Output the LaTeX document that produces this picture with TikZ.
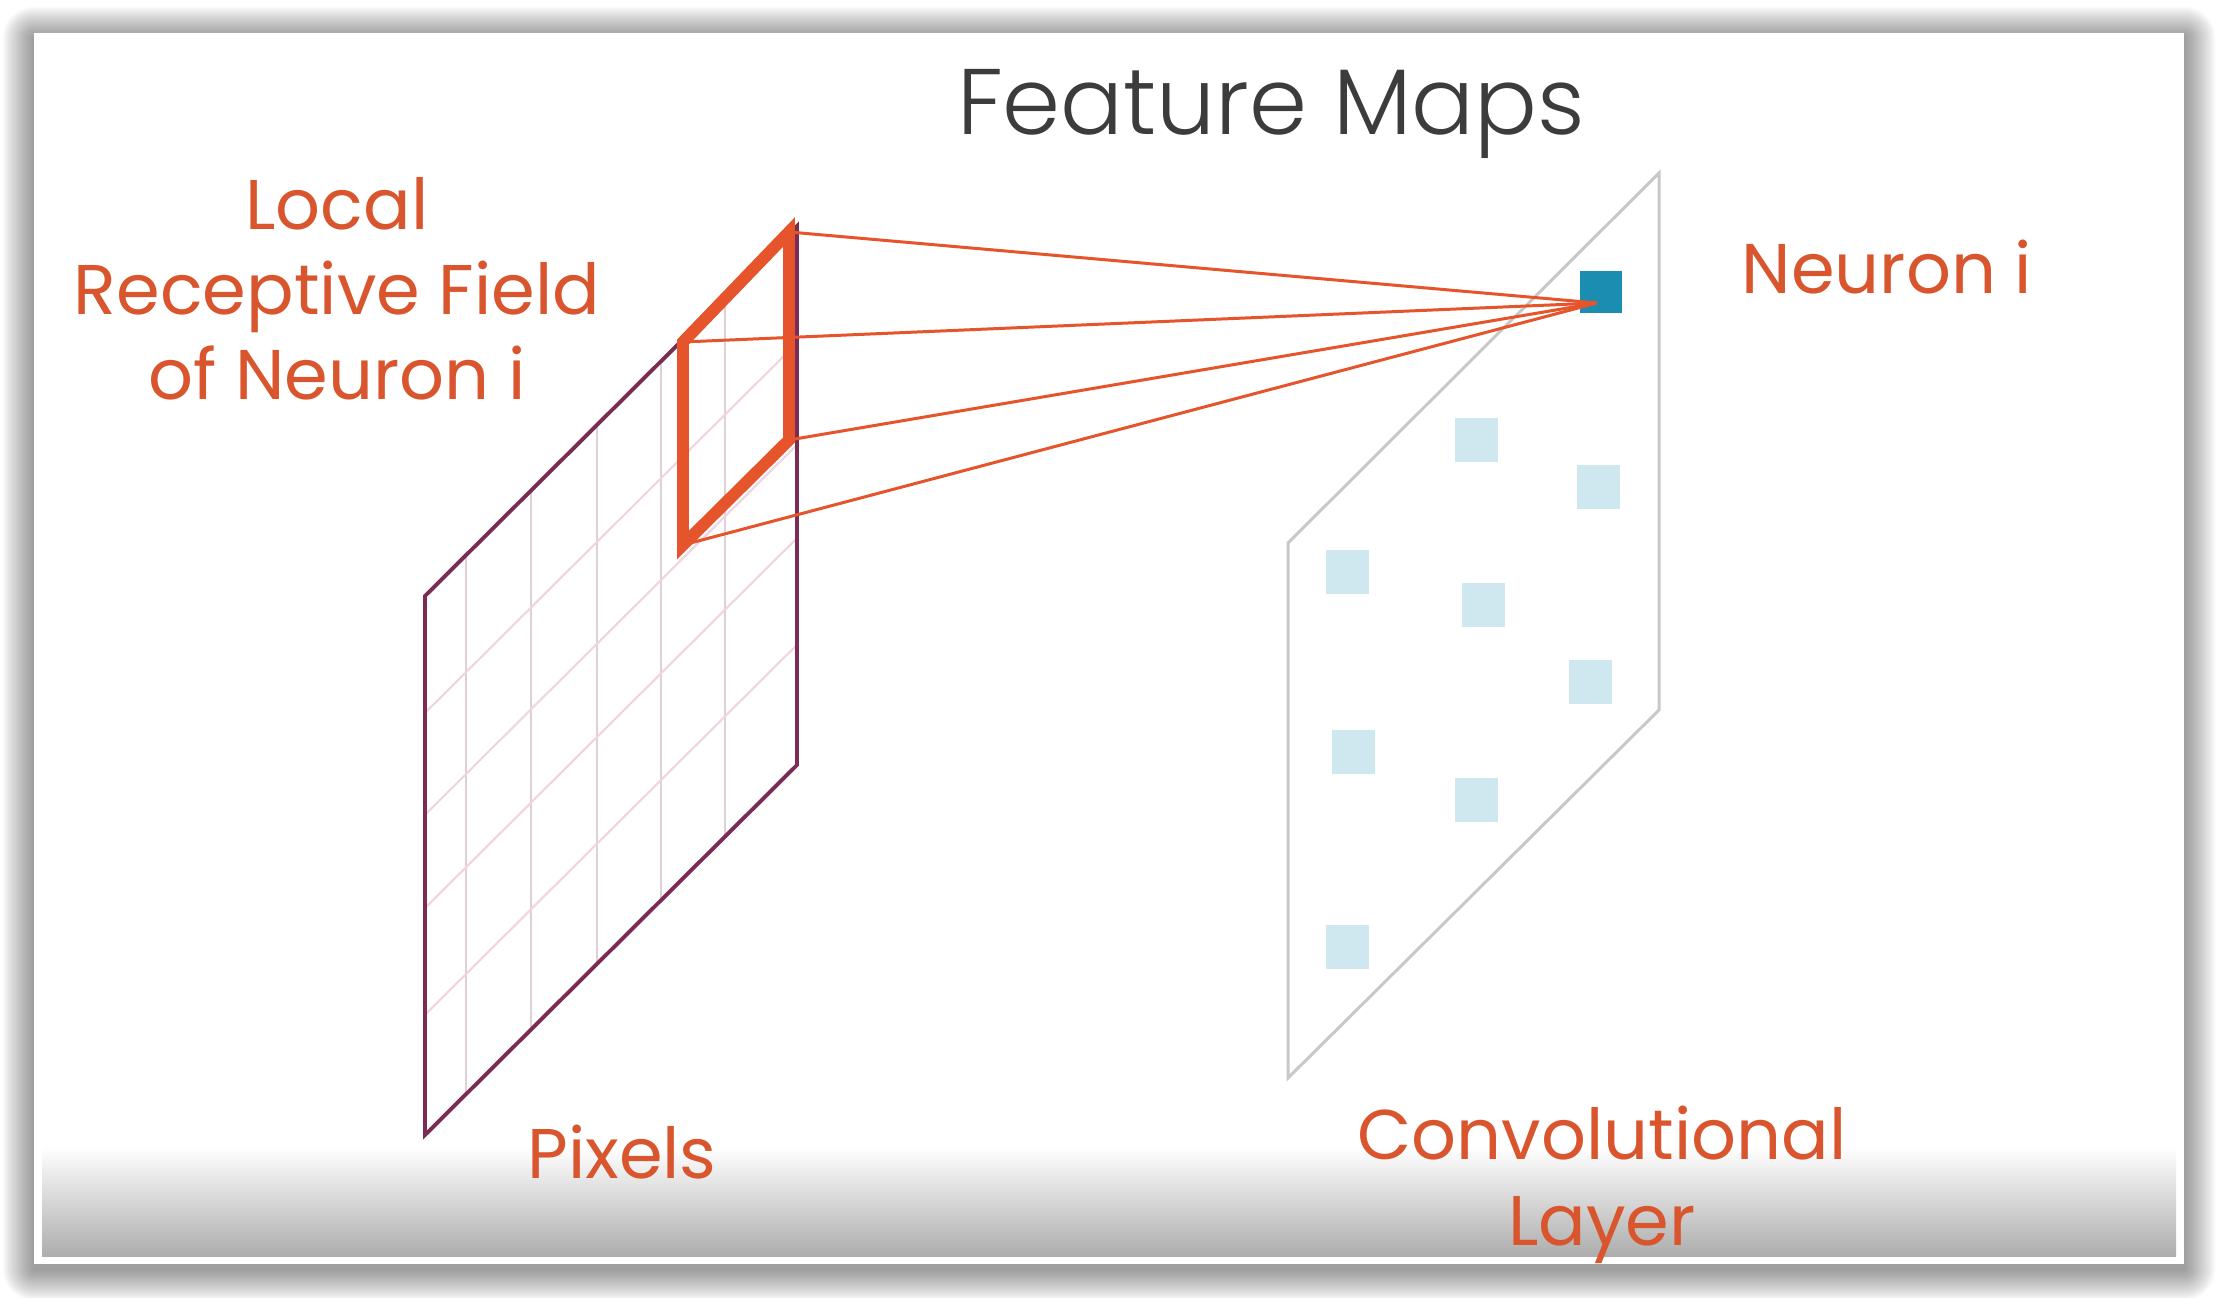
\documentclass[tikz,border=0pt]{standalone}
\usepackage{fontspec}
\setmainfont{Poppins}
\newfontfamily\lightfont{Poppins Light}
\usetikzlibrary{calc}
\definecolor{rforange}{HTML}{E6542B}
\definecolor{lblorange}{HTML}{D9552D}
\definecolor{titlegray}{HTML}{3C3C3C}
\definecolor{pixborder}{HTML}{7A2C55}
\definecolor{gridv}{HTML}{DFCFD8}
\definecolor{gridd}{HTML}{F0D4DE}
\definecolor{convgray}{HTML}{C8C8C8}
\definecolor{neuronblue}{HTML}{1A8DB0}
\definecolor{cellblue}{HTML}{CFE8EF}
\definecolor{gradgray}{HTML}{ADADAD}
\tikzset{
  lbl/.style={text=lblorange, font=\fontsize{20}{24.2}\selectfont, inner sep=0pt, align=center},
  cell/.style={fill=cellblue, minimum size=0.43cm, inner sep=0pt, draw=none},
  neuroncell/.style={fill=neuronblue, minimum size=0.42cm, inner sep=0pt, draw=none},
  gridvline/.style={draw=gridv, line width=0.6pt},
  griddline/.style={draw=gridd, line width=0.6pt},
  planeborder/.style={draw=pixborder, line width=1.1pt, line join=miter},
  convborder/.style={draw=convgray, line width=0.85pt},
  rfbox/.style={draw=rforange, line width=3.4pt, line join=miter},
  rfline/.style={draw=rforange, line width=0.85pt},
}
\begin{document}
\begin{tikzpicture}[x=0.01cm,y=-0.01cm]
\useasboundingbox (0,0) rectangle (2218,1298);
% drop shadow of the card
\foreach \i in {1,...,24}{
  \pgfmathsetmacro\d{\i*1.3}
  \pgfmathsetmacro\r{\d*0.2845}
  \fill[black,opacity=0.018,rounded corners=\r pt] ({34-\d},{38-\d}) rectangle ({2184+\d},{1269+\d});
}
% card
\fill[white] (34,33) rectangle (2184,1264);
\shade[top color=white, bottom color=gradgray] (42,1147) rectangle (2176,1256);

% ---- pixel plane ----
\coordinate (pTL) at (425,596);
\coordinate (pTR) at (797,226);
\coordinate (pBR) at (797,765);
\coordinate (pBL) at (425,1135);
\foreach \t in {0.110,0.285,0.462,0.634,0.806}{
  \draw[gridvline] ($(pTL)!\t!(pTR)$) -- ($(pBL)!\t!(pBR)$);
}
\foreach \s in {0.217,0.406,0.579,0.777}{
  \draw[griddline] ($(pTL)!\s!(pBL)$) -- ($(pTR)!\s!(pBR)$);
}
\draw[planeborder] (pTL) -- (pTR) -- (pBR) -- (pBL) -- cycle;

% ---- convolutional plane ----
\coordinate (cTL) at (1288,543);
\coordinate (cTR) at (1659,173);
\coordinate (cBR) at (1659,710);
\coordinate (cBL) at (1288,1078);
\draw[convborder] (cTL) -- (cTR) -- (cBR) -- (cBL) -- cycle;

\node[cell] (c1) at (1476,440) {};
\node[cell] (c2) at (1598,487) {};
\node[cell] (c3) at (1347,572) {};
\node[cell] (c4) at (1483,605) {};
\node[cell] (c5) at (1590,682) {};
\node[cell] (c6) at (1353,752) {};
\node[cell] (c7) at (1476,800) {};
\node[cell] (c8) at (1347,947) {};
\node[neuroncell] (neuron) at (1601,292) {};
\coordinate (nconv) at (1597,303);

% ---- receptive field ----
\coordinate (rTR) at (789,232);
\coordinate (rTL) at (683,342);
\coordinate (rBL) at (683,545);
\coordinate (rBR) at (789,440);
\draw[rfbox] (rTR) -- (rTL) -- (rBL) -- (rBR) -- cycle;
\draw[rfline] (rTR) -- (nconv);
\draw[rfline] (rTL) -- (nconv);
\draw[rfline] (rBR) -- (nconv);
\draw[rfline] (rBL) -- (nconv);

% ---- texts ----
\node[anchor=base, text=titlegray, inner sep=0pt, font=\lightfont\fontsize{26.5}{30}\selectfont] (title) at (1271,135) {Feature Maps};
\node[lbl, anchor=base] (rflabel) at (337,400) {Local\\Receptive Field\\of Neuron i};
\node[lbl, anchor=base west] (neuronlabel) at (1741,294) {Neuron i};
\node[lbl, anchor=base] (pixlabel) at (622,1178) {Pixels};
\node[lbl, anchor=base] (convlabel) at (1602,1245) {Convolutional\\Layer};
\end{tikzpicture}
\end{document}
